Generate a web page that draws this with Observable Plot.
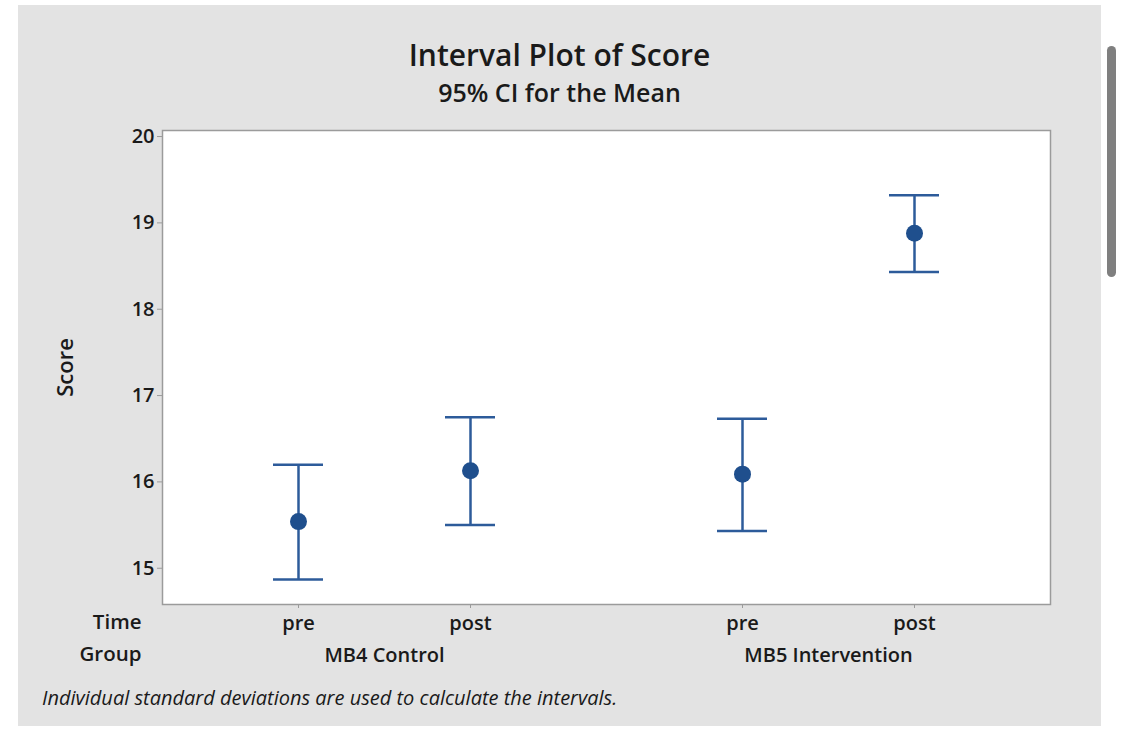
<!DOCTYPE html>
<html>
<head>
<meta charset="utf-8">
<script src="https://cdn.jsdelivr.net/npm/d3@7"></script>
<script src="https://cdn.jsdelivr.net/npm/@observablehq/plot@0.6"></script>
<style>
  html, body { margin: 0; padding: 0; background: #ffffff; }
  body { width: 1125px; height: 739px; position: relative; overflow: hidden; font-family: "Open Sans", "Noto Sans", sans-serif; color: #1a1a1a; }
  #panel { position: absolute; left: 18px; top: 5px; width: 1083px; height: 721px; background: #e3e3e3; }
  #title { position: absolute; left: 0; width: 1083px; top: 29px; text-align: center; font-size: 30px; font-weight: 600; }
  #subtitle { position: absolute; left: 0; width: 1083px; top: 70px; text-align: center; font-size: 25px; font-weight: 600; }
  #chart { position: absolute; left: 0; top: 105px; }
  #caption { position: absolute; left: 24px; top: 679px; font-size: 20px; font-style: italic; }
  #scroll { position: absolute; left: 1107px; top: 46px; width: 9px; height: 231px; border-radius: 5px; background: #7f7f7f; }
</style>
</head>
<body>
<div id="panel">
  <div id="title">Interval Plot of Score</div>
  <div id="subtitle">95% CI for the Mean</div>
  <div id="chart"></div>
  <div id="caption">Individual standard deviations are used to calculate the intervals.</div>
</div>
<div id="scroll"></div>
<script>
// ---- data ----
const groups = ["MB4 Control", "MB5 Intervention"];
const times = ["pre", "post"];
const rowGroup = ["MB4 Control", "MB4 Control", "MB5 Intervention", "MB5 Intervention"];
const rowTime = ["pre", "post", "pre", "post"];
const means = [15.54, 16.13, 16.09, 18.88];
const lowers = [14.87, 15.50, 15.43, 18.43];
const uppers = [16.20, 16.75, 16.73, 19.32];
const yTicks = [15, 16, 17, 18, 19, 20];
const yDomain = [14.58, 20.07];

const rows = means.map((m, i) => ({group: rowGroup[i], time: rowTime[i], mean: m, lo: lowers[i], hi: uppers[i]}));

const blue = "#2d5b9a";
const dotBlue = "#1f4f8d";
const frameGray = "#9b9b9b";
const ink = "#1a1a1a";

function build(useSuper) {
  const first = [{g: groups[0]}];
  const marks = [];
  if (useSuper) marks.push(Plot.frame({facet: "super", fill: "#ffffff", stroke: "none"}));
  marks.push(
    Plot.axisY({anchor: "left", ticks: yTicks, tickFormat: "d", tickSize: 5, tickPadding: 3, fontSize: 20, fontWeight: 600, stroke: frameGray, fill: ink, label: null}),
    Plot.axisX({anchor: "bottom", tickSize: 4, tickPadding: 7, fontSize: 20, fontWeight: 600, stroke: frameGray, fill: ink, label: null}),
    Plot.axisFx({anchor: "bottom", tickSize: 0, tickPadding: 43, fontSize: 20, fontWeight: 600, fill: ink, label: null}),
    Plot.ruleX(rows, {x: "time", fx: "group", y1: "lo", y2: "hi", stroke: blue, strokeWidth: 2.5}),
    Plot.tickY(rows, {x: "time", fx: "group", y: "lo", stroke: blue, strokeWidth: 2.5}),
    Plot.tickY(rows, {x: "time", fx: "group", y: "hi", stroke: blue, strokeWidth: 2.5}),
    Plot.dot(rows, {x: "time", fx: "group", y: "mean", r: 8.5, fill: dotBlue, stroke: "none"}),
    Plot.text(first, {fx: "g", frameAnchor: "left", text: () => "Score", rotate: -90, textAnchor: "middle", dx: -97, fontSize: 22, fontWeight: 600, fill: ink}),
    Plot.text(first, {fx: "g", frameAnchor: "bottom-left", text: () => "Time", textAnchor: "end", dx: -21, dy: 24, fontSize: 20.5, fontWeight: 600, fill: ink}),
    Plot.text(first, {fx: "g", frameAnchor: "bottom-left", text: () => "Group", textAnchor: "end", dx: -21, dy: 56, fontSize: 20.5, fontWeight: 600, fill: ink})
  );
  if (useSuper) marks.push(Plot.frame({facet: "super", stroke: frameGray, strokeWidth: 1.5}));
  return Plot.plot({
    width: 1083,
    height: 565,
    marginLeft: 143,
    marginRight: 51,
    marginTop: 20,
    marginBottom: 71,
    style: {background: "transparent", fontFamily: "Open Sans, Noto Sans, sans-serif", color: ink},
    facet: {data: rows, x: "group"},
    fx: {domain: groups, padding: 0},
    x: {type: "band", domain: times, paddingInner: 0.709, paddingOuter: 0.645},
    y: {domain: yDomain},
    marks
  });
}

let chart;
try { chart = build(true); } catch (e) { chart = build(false); }
document.getElementById("chart").appendChild(chart);
</script>
</body>
</html>
